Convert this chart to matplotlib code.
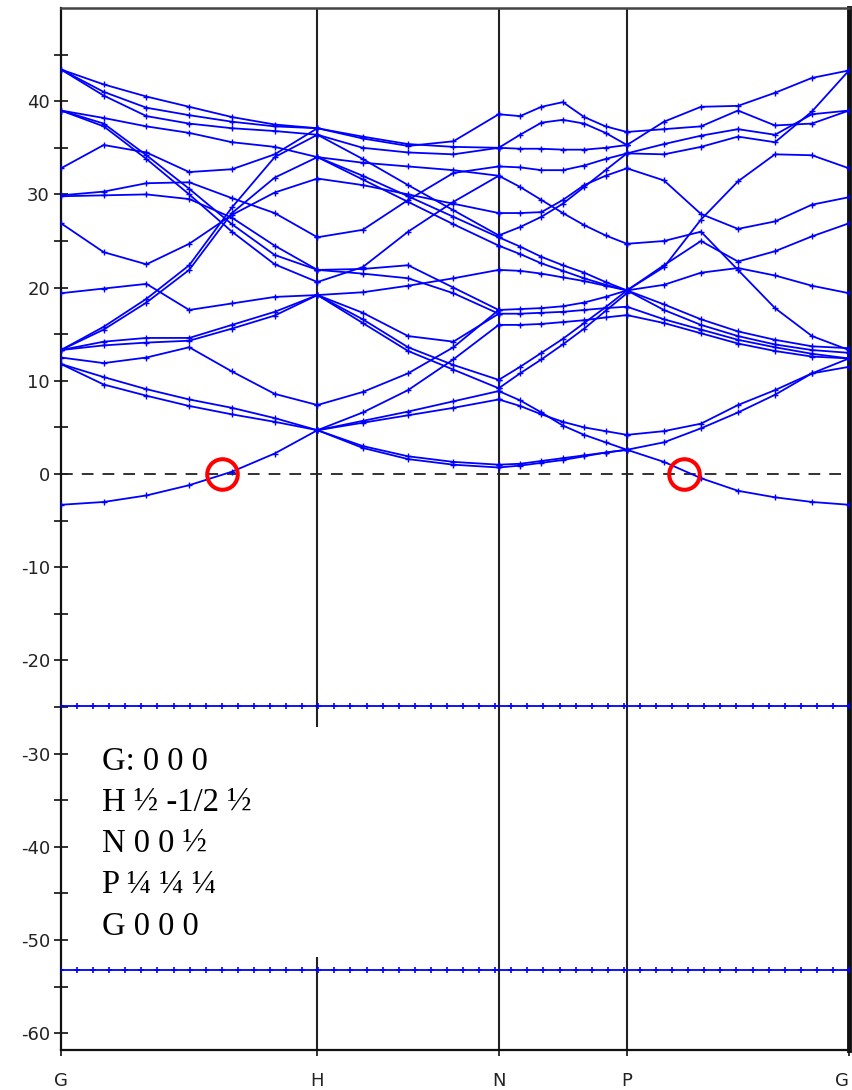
import numpy as np
import matplotlib
matplotlib.use('Agg')
import matplotlib.pyplot as plt
from matplotlib.patches import Rectangle

plt.rcParams['axes.unicode_minus'] = False

# ---------------- data ----------------
k_labels = ['G', 'H', 'N', 'P', 'G']
seg_len = [1.0, 0.7071, 0.5, 0.8660]          # bcc path lengths G-H, H-N, N-P, P-G
energy_ticks = list(range(-60, 41, 10))
core_levels = [-24.9, -53.2]
fermi_crossings_k = [0.628, 2.4297]
legend_lines = ["G: 0 0 0", "H \u00bd -1/2 \u00bd", "N 0 0 \u00bd", "P \u00bc \u00bc \u00bc", "G 0 0 0"]

# G -> H (7 samples along the segment)
bands_GH = [
    [43.4, 41.8, 40.5, 39.4, 38.3, 37.5, 37.1],
    [43.4, 41.0, 39.3, 38.5, 37.8, 37.3, 37.1],
    [43.4, 40.6, 38.4, 37.6, 37.1, 36.8, 36.4],
    [39.0, 38.2, 37.3, 36.6, 35.6, 35.1, 34.0],
    [39.0, 37.6, 34.2, 30.6, 26.8, 23.5, 21.9],
    [39.0, 37.3, 33.8, 30.0, 26.0, 22.5, 20.6],
    [32.8, 35.3, 34.5, 32.4, 32.7, 34.3, 37.1],
    [29.9, 30.3, 31.2, 31.3, 29.6, 28.0, 25.4],
    [29.8, 29.9, 30.0, 29.5, 27.5, 24.5, 21.9],
    [26.9, 23.8, 22.5, 24.7, 27.8, 30.2, 31.7],
    [19.4, 19.9, 20.4, 17.6, 18.3, 19.0, 19.2],
    [13.3, 15.8, 18.8, 22.4, 28.6, 34.0, 36.4],
    [13.3, 15.5, 18.4, 21.9, 28.0, 31.8, 34.0],
    [13.3, 14.2, 14.6, 14.6, 16.0, 17.4, 19.2],
    [13.3, 13.8, 14.1, 14.3, 15.6, 17.0, 19.2],
    [12.5, 11.9, 12.5, 13.6, 11.0, 8.6, 7.4],
    [11.8, 10.4, 9.1, 8.0, 7.1, 6.0, 4.7],
    [11.8, 9.6, 8.4, 7.3, 6.4, 5.6, 4.7],
    [-3.3, -3.0, -2.3, -1.2, 0.25, 2.2, 4.7],
]

# H -> N (5 samples)
bands_HN = [
    [37.1, 36.0, 35.2, 35.7, 38.6],
    [37.1, 36.2, 35.4, 35.1, 35.0],
    [36.4, 35.0, 34.5, 34.3, 35.0],
    [36.4, 33.8, 31.0, 28.3, 25.6],
    [34.0, 32.0, 29.8, 27.6, 25.4],
    [34.0, 31.6, 29.2, 26.8, 24.5],
    [34.0, 33.4, 33.0, 32.6, 32.0],
    [31.7, 31.0, 30.0, 29.0, 28.0],
    [25.4, 26.2, 29.4, 32.3, 33.0],
    [20.6, 22.2, 26.0, 29.2, 32.0],
    [21.9, 22.0, 22.4, 20.0, 17.6],
    [21.9, 21.5, 21.0, 19.4, 17.2],
    [19.2, 19.5, 20.2, 21.0, 21.9],
    [19.2, 17.3, 14.8, 14.2, 17.2],
    [19.2, 16.6, 13.6, 11.7, 10.1],
    [19.2, 16.2, 13.2, 11.2, 9.2],
    [7.4, 8.8, 10.8, 13.6, 17.6],
    [4.7, 6.6, 9.0, 12.3, 16.0],
    [4.7, 5.7, 6.7, 7.8, 8.9],
    [4.7, 5.5, 6.3, 7.1, 8.0],
    [4.7, 3.0, 1.9, 1.3, 1.0],
    [4.7, 2.8, 1.6, 1.0, 0.7],
]

# N -> P (7 samples)
bands_NP = [
    [38.6, 38.4, 39.4, 39.9, 38.3, 37.3, 36.7],
    [35.0, 36.4, 37.7, 38.0, 37.6, 36.6, 35.3],
    [35.0, 34.9, 34.9, 34.8, 34.8, 35.0, 35.3],
    [33.0, 32.9, 32.6, 32.6, 33.1, 33.8, 34.4],
    [32.0, 30.8, 29.4, 28.0, 26.7, 25.6, 24.7],
    [28.0, 28.0, 28.1, 29.4, 31.0, 32.0, 32.8],
    [25.6, 26.5, 27.6, 29.0, 30.8, 32.6, 34.4],
    [25.4, 24.4, 23.3, 22.4, 21.6, 20.6, 19.7],
    [24.5, 23.6, 22.6, 21.8, 21.0, 20.3, 19.7],
    [21.9, 21.8, 21.5, 21.1, 20.7, 20.2, 19.7],
    [17.6, 17.7, 17.8, 18.0, 18.4, 19.0, 19.7],
    [17.2, 17.2, 17.3, 17.4, 17.6, 17.8, 17.95],
    [16.0, 16.0, 16.1, 16.3, 16.5, 16.8, 17.05],
    [10.1, 11.5, 13.0, 14.5, 16.2, 17.9, 19.7],
    [9.2, 10.8, 12.3, 13.9, 15.6, 17.5, 19.4],
    [8.0, 7.3, 6.4, 5.6, 5.0, 4.6, 4.2],
    [8.9, 7.9, 6.6, 5.2, 4.2, 3.4, 2.6],
    [1.0, 1.1, 1.4, 1.7, 2.0, 2.3, 2.6],
    [0.7, 0.9, 1.2, 1.5, 1.9, 2.3, 2.6],
]

# P -> G (7 samples)
bands_PG = [
    [36.7, 37.0, 37.3, 39.0, 37.4, 37.6, 39.0],
    [35.3, 37.8, 39.4, 39.5, 40.9, 42.5, 43.3],
    [34.4, 34.3, 35.1, 36.2, 35.6, 38.9, 43.3],
    [34.4, 35.4, 36.3, 37.0, 36.4, 38.6, 39.0],
    [32.8, 31.5, 27.9, 26.3, 27.1, 28.9, 29.7],
    [19.7, 22.2, 27.3, 31.4, 34.3, 34.2, 32.8],
    [19.7, 22.4, 25.0, 22.8, 23.9, 25.5, 26.9],
    [24.7, 25.0, 26.0, 21.9, 17.8, 14.8, 13.3],
    [19.7, 20.3, 21.6, 22.1, 21.3, 20.2, 19.4],
    [19.7, 18.2, 16.6, 15.3, 14.4, 13.7, 13.5],
    [19.7, 17.6, 16.0, 14.8, 13.9, 13.3, 13.0],
    [17.95, 16.6, 15.5, 14.4, 13.6, 12.9, 12.4],
    [17.05, 16.2, 15.1, 14.0, 13.2, 12.6, 12.4],
    [4.2, 4.6, 5.4, 7.4, 9.0, 10.8, 11.5],
    [2.6, 3.4, 4.9, 6.6, 8.5, 10.8, 12.4],
    [2.6, 1.3, -0.45, -1.8, -2.5, -3.0, -3.3],
]

# ---------------- plot ----------------
kx = np.concatenate([[0.0], np.cumsum(seg_len)])
BLUE = '#0000ff'

fig = plt.figure(figsize=(8.53, 10.90), dpi=100)
ax = fig.add_axes([61 / 853, 40 / 1090, 788 / 853, 1042 / 1090])

for kv in kx[1:-1]:
    ax.axvline(kv, color='#222222', lw=1.5, zorder=1)

ax.axhline(0, color='#222222', lw=1.3, ls=(0, (6.5, 5)), zorder=1)

for i, seg in enumerate([bands_GH, bands_HN, bands_NP, bands_PG]):
    for band in seg:
        k = np.linspace(kx[i], kx[i + 1], len(band))
        ax.plot(k, band, color=BLUE, lw=1.3, marker='+', ms=4, mew=1.0, zorder=3)

kgrid = np.linspace(kx[0], kx[-1], 50)
for e in core_levels:
    ax.plot(kgrid, np.full_like(kgrid, e), color=BLUE, lw=1.3, marker='+',
            ms=5, mew=1.2, zorder=3)

ax.plot(fermi_crossings_k, [0, 0], ls='none', marker='o', mfc='none', mec='#ff0000',
        ms=22, mew=2.9, zorder=4)

ax.add_patch(Rectangle((24 / 788, 93 / 1042), 250 / 788, 230 / 1042,
                       transform=ax.transAxes, facecolor='white', edgecolor='none', zorder=2))

baselines = [770, 811, 852, 893, 935]
for txt, yb in zip(legend_lines, baselines):
    ax.text((102 - 61) / 788, (1050 - yb) / 1042, txt, transform=ax.transAxes,
            ha='left', va='baseline', fontsize=23.5,
            family=['Liberation Serif', 'DejaVu Serif'], color='black', zorder=5)

ax.set_xlim(kx[0], kx[-1])
ax.set_ylim(-61.8, 50)
ax.set_xticks(kx)
ax.set_xticklabels(k_labels)
ax.get_xticklabels()[-1].set_horizontalalignment('right')
ax.set_yticks(energy_ticks)
ax.set_yticklabels([str(t) for t in energy_ticks])
ax.set_yticks(np.arange(-55, 50, 10), minor=True)

ax.tick_params(axis='y', which='both', direction='inout', length=10, width=1.3,
               labelsize=13, pad=3, colors='#222222')
ax.tick_params(axis='x', which='both', direction='out', length=4, width=1.3,
               labelsize=13, pad=12, colors='#222222')

for side, lw in [('left', 1.6), ('bottom', 1.6), ('top', 1.8), ('right', 3.5)]:
    ax.spines[side].set_linewidth(lw)
    ax.spines[side].set_color('#111111')
ax.spines['top'].set_color('#444444')

fig.savefig('out.png', dpi=100)
